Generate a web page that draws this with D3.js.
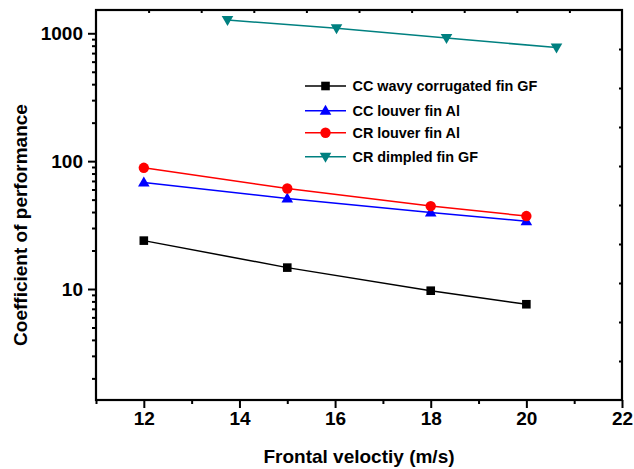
<!DOCTYPE html>
<html>
<head>
<meta charset="utf-8">
<script src="https://cdn.jsdelivr.net/npm/d3@7"></script>
<style>
  html, body { margin: 0; padding: 0; background: #fff; }
  svg { display: block; font-family: "Liberation Sans", Arial, sans-serif; }
</style>
</head>
<body>
<svg id="chart" width="634" height="469"></svg>
<script>
// ---- data ----
const seriesNames = ["CC wavy corrugated fin GF", "CC louver fin Al", "CR louver fin Al", "CR dimpled fin GF"];
const seriesColors = ["#000000", "#0000ff", "#ff0000", "#008080"];
const seriesSymbols = ["square", "triangleUp", "circle", "triangleDown"];

const xCC = [12, 15, 18, 20];
const ccWavyGF = [23.9, 14.7, 9.7, 7.6];
const ccLouverAl = [68, 51, 39.7, 33.9];
const crLouverAl = [88.7, 61.1, 44.5, 37.2];
const xDimpled = [13.75, 16.03, 18.33, 20.63];
const crDimpledGF = [1271, 1094, 918, 773];

const xTickValues = [12, 14, 16, 18, 20, 22];
const yTickValues = [10, 100, 1000];
const xLabel = "Frontal veloctiy (m/s)";
const yLabel = "Coefficient of performance";

// ---- layout ----
const svg = d3.select("#chart");
const pL = 96, pR = 622, pT = 10, pB = 400;

const x = d3.scaleLinear().domain([11, 22]).range([pL, pR]);
const y = d3.scaleLog().domain([1.355, 1521]).range([pB, pT]);
const xTop = d3.scaleLinear().domain([0, 10]).range([pL, pR]);
const yRight = d3.scaleLinear().domain([0, 10]).range([pB, pT]);

const series = [
  { name: seriesNames[0], xs: xCC, ys: ccWavyGF, color: seriesColors[0], sym: seriesSymbols[0] },
  { name: seriesNames[1], xs: xCC, ys: ccLouverAl, color: seriesColors[1], sym: seriesSymbols[1] },
  { name: seriesNames[2], xs: xCC, ys: crLouverAl, color: seriesColors[2], sym: seriesSymbols[2] },
  { name: seriesNames[3], xs: xDimpled, ys: crDimpledGF, color: seriesColors[3], sym: seriesSymbols[3] }
];

const axisFont = "bold 19px 'Liberation Sans', Arial, sans-serif";

// minor ticks
const xMinor = d3.range(11, 22.01, 1).filter(v => !xTickValues.includes(v));
const yMinor = y.ticks().filter(v => !yTickValues.includes(v));

// bottom axis
const gB = svg.append("g").attr("transform", `translate(0,${pB})`)
  .call(d3.axisBottom(x).tickValues(xMinor).tickSize(4).tickFormat(""));
gB.selectAll("path").remove();
const gB2 = svg.append("g").attr("transform", `translate(0,${pB})`)
  .call(d3.axisBottom(x).tickValues(xTickValues).tickSize(8).tickPadding(4).tickFormat(d3.format("d")));
gB2.selectAll("path").remove();
gB2.selectAll("text").style("font", axisFont).attr("fill", "#000");

// left axis
const gL = svg.append("g").attr("transform", `translate(${pL},0)`)
  .call(d3.axisLeft(y).tickValues(yMinor).tickSize(4).tickFormat(""));
gL.selectAll("path").remove();
const gL2 = svg.append("g").attr("transform", `translate(${pL},0)`)
  .call(d3.axisLeft(y).tickValues(yTickValues).tickSize(8).tickPadding(5).tickFormat(d3.format("d")));
gL2.selectAll("path").remove();
gL2.selectAll("text").style("font", axisFont).attr("fill", "#000");

// top & right axes (unlabelled ticks)
const gT = svg.append("g").attr("transform", `translate(0,${pT})`)
  .call(d3.axisTop(xTop).tickValues(d3.range(1, 10)).tickSize(-3).tickFormat(""));
gT.selectAll("path").remove();
const gR = svg.append("g").attr("transform", `translate(${pR},0)`)
  .call(d3.axisRight(yRight).tickValues(d3.range(1, 10)).tickSize(-3).tickFormat(""));
gR.selectAll("path").remove();

svg.selectAll(".tick line").attr("stroke", "#000").attr("stroke-width", 2);

// frame
svg.append("rect")
  .attr("x", pL).attr("y", pT)
  .attr("width", pR - pL).attr("height", pB - pT)
  .attr("fill", "none").attr("stroke", "#000").attr("stroke-width", 2.2);

// axis titles
svg.append("text")
  .attr("x", (pL + pR) / 2).attr("y", 463)
  .attr("text-anchor", "middle")
  .style("font", axisFont)
  .text(xLabel);
svg.append("text")
  .attr("transform", `translate(27,${(pT + pB) / 2 + 20}) rotate(-90)`)
  .attr("text-anchor", "middle")
  .style("font", axisFont)
  .text(yLabel);

// symbols
function drawSymbol(g, sym, cx, cy, color) {
  if (sym === "square") {
    g.append("rect").attr("x", cx - 4.3).attr("y", cy - 4.3).attr("width", 8.6).attr("height", 8.6).attr("fill", color);
  } else if (sym === "circle") {
    g.append("circle").attr("cx", cx).attr("cy", cy).attr("r", 5.2).attr("fill", color);
  } else if (sym === "triangleUp") {
    g.append("path").attr("d", `M${cx},${cy - 6} L${cx + 5.8},${cy + 4} L${cx - 5.8},${cy + 4} Z`).attr("fill", color);
  } else if (sym === "triangleDown") {
    g.append("path").attr("d", `M${cx},${cy + 6} L${cx + 5.8},${cy - 4} L${cx - 5.8},${cy - 4} Z`).attr("fill", color);
  }
}

const line = d3.line().x(d => x(d[0])).y(d => y(d[1]));
const plot = svg.append("g");
series.forEach(s => {
  const pts = s.xs.map((v, i) => [v, s.ys[i]]);
  plot.append("path").datum(pts)
    .attr("d", line).attr("fill", "none")
    .attr("stroke", s.color).attr("stroke-width", 1.5);
  const gm = plot.append("g");
  pts.forEach(p => drawSymbol(gm, s.sym, x(p[0]), y(p[1]), s.color));
});

// legend
const legend = svg.append("g");
const legY = [86, 110.7, 132.7, 156.7];
series.forEach((s, i) => {
  const ly = legY[i];
  legend.append("line").attr("x1", 305).attr("x2", 346).attr("y1", ly).attr("y2", ly)
    .attr("stroke", s.color).attr("stroke-width", 1.5);
  drawSymbol(legend, s.sym, 325.5, ly, s.color);
  legend.append("text").attr("x", 352.5).attr("y", ly + 5.2)
    .style("font", "bold 14.4px 'Liberation Sans', Arial, sans-serif")
    .text(s.name);
});
</script>
</body>
</html>
